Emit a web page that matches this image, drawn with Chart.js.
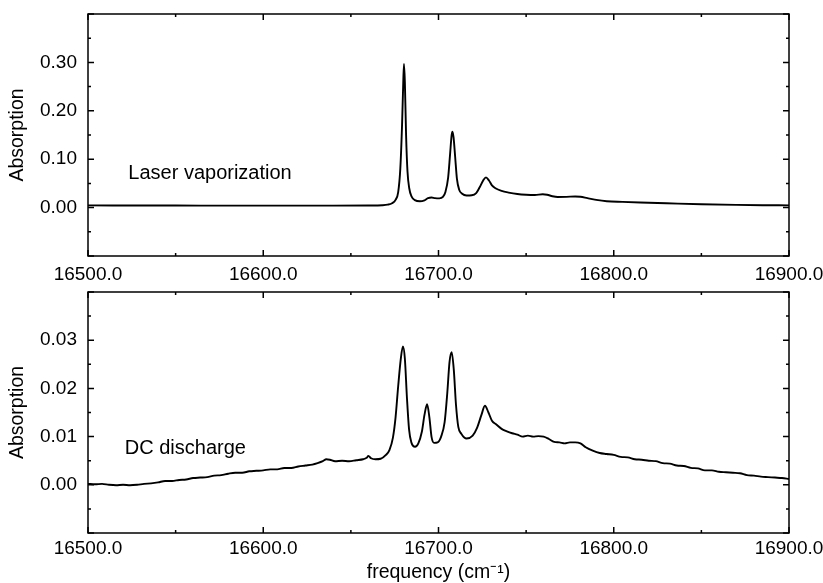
<!DOCTYPE html>
<html>
<head>
<meta charset="utf-8">
<script src="https://cdn.jsdelivr.net/npm/chart.js@4.4.1/dist/chart.umd.min.js"></script>
<style>
  body { margin: 0; background: #fff; }
  .panel { position: absolute; left: 0; width: 823px; }
  #topWrap { top: 0; height: 290px; }
  #botWrap { top: 280px; height: 303px; }
</style>
</head>
<body>
<div class="panel" id="topWrap"><canvas id="laserChart"></canvas></div>
<div class="panel" id="botWrap"><canvas id="dcChart"></canvas></div>
<script>
// laser vaporization spectrum (frequency in cm-1, absorption)
const laserFreq = [16500, 16550, 16600, 16640, 16660, 16668, 16671, 16673.5, 16675.5, 16677,
  16678.2, 16679.2, 16679.9, 16680.3, 16680.8, 16681.5, 16682.3, 16683.3, 16684.6, 16686.5,
  16689.4, 16692, 16694, 16696, 16698, 16700.5, 16702.5, 16704, 16705.5, 16706.6,
  16707.5, 16708, 16708.6, 16709.5, 16710.5, 16711.8, 16713.5, 16716, 16719, 16721.5,
  16723.5, 16725.5, 16727.1, 16728.8, 16730.5, 16732.5, 16736, 16740, 16745, 16750,
  16755, 16759.5, 16762, 16765, 16768, 16773, 16778, 16781, 16785, 16790,
  16796, 16805, 16815, 16830, 16850, 16870, 16885, 16900];
const laserAbs = [0.0045, 0.0042, 0.0040, 0.0040, 0.0042, 0.0048, 0.0060, 0.0090, 0.0160, 0.0320,
  0.0800, 0.1700, 0.2600, 0.2970, 0.2600, 0.1500, 0.0750, 0.0400, 0.0230, 0.0155,
  0.0130, 0.0150, 0.0195, 0.0210, 0.0195, 0.0190, 0.0220, 0.0330, 0.0620, 0.1100,
  0.1500, 0.1570, 0.1450, 0.1050, 0.0600, 0.0370, 0.0285, 0.0250, 0.0255, 0.0300,
  0.0420, 0.0560, 0.0625, 0.0560, 0.0460, 0.0400, 0.0345, 0.0310, 0.0280, 0.0265,
  0.0260, 0.0275, 0.0265, 0.0235, 0.0220, 0.0222, 0.0230, 0.0225, 0.0195, 0.0160,
  0.0132, 0.0118, 0.0105, 0.0090, 0.0070, 0.0057, 0.0050, 0.0047];

// DC discharge spectrum
const dcFreq = [16500, 16504, 16508, 16512, 16516, 16520, 16524, 16528, 16532, 16536,
  16540, 16544, 16548, 16552, 16556, 16560, 16564, 16568, 16572, 16576,
  16580, 16584, 16588, 16592, 16596, 16600, 16604, 16608, 16612, 16616,
  16620, 16624, 16628, 16631, 16634, 16636, 16638, 16641, 16645, 16649,
  16653, 16657, 16659, 16660, 16661.5, 16664, 16667, 16670, 16672, 16674,
  16675.5, 16677, 16678.5, 16679.7, 16680.8, 16682, 16683.2, 16684.5, 16686.6, 16688.5,
  16690.5, 16692, 16693.5, 16694.8, 16696, 16697.5, 16699.5, 16701.5, 16703.5, 16705,
  16706.3, 16707.5, 16708.7, 16710, 16711.3, 16713, 16716, 16719.5, 16722, 16724.5,
  16726.5, 16728.5, 16730.5, 16733, 16736, 16739, 16742, 16745, 16748, 16751,
  16754, 16757, 16760, 16763, 16766, 16769, 16772, 16775, 16778, 16781,
  16784, 16788, 16792, 16796, 16800, 16804, 16808, 16812, 16816, 16820,
  16824, 16828, 16832, 16836, 16840, 16844, 16848, 16852, 16856, 16860,
  16864, 16868, 16872, 16876, 16880, 16884, 16888, 16892, 16896, 16900];
const dcAbs = [0.0002, 0.0001, 0.0002, 0.0000, -0.0001, 0.0000, -0.0001, 0.0000, 0.0002, 0.0003,
  0.0005, 0.0008, 0.0008, 0.0010, 0.0011, 0.0014, 0.0015, 0.0016, 0.0019, 0.0020,
  0.0023, 0.0025, 0.0025, 0.0028, 0.0029, 0.0030, 0.0032, 0.0032, 0.0035, 0.0035,
  0.0038, 0.0040, 0.0042, 0.0045, 0.0049, 0.0053, 0.0052, 0.0049, 0.0050, 0.0049,
  0.0051, 0.0053, 0.0056, 0.0060, 0.0055, 0.0053, 0.0054, 0.0062, 0.0072, 0.0098,
  0.0140, 0.0205, 0.0262, 0.0287, 0.0262, 0.0180, 0.0115, 0.0088, 0.0079, 0.0086,
  0.0110, 0.0145, 0.0167, 0.0140, 0.0100, 0.0087, 0.0088, 0.0100, 0.0130, 0.0190,
  0.0255, 0.0275, 0.0240, 0.0165, 0.0120, 0.0106, 0.0096, 0.0102, 0.0118, 0.0145,
  0.0164, 0.0150, 0.0133, 0.0125, 0.0116, 0.0111, 0.0107, 0.0104, 0.0100, 0.0102,
  0.0100, 0.0101, 0.0100, 0.0095, 0.0089, 0.0088, 0.0086, 0.0088, 0.0088, 0.0086,
  0.0078, 0.0071, 0.0066, 0.0064, 0.0062, 0.0058, 0.0057, 0.0053, 0.0052, 0.0050,
  0.0049, 0.0045, 0.0044, 0.0040, 0.0039, 0.0035, 0.0034, 0.0030, 0.0030, 0.0027,
  0.0026, 0.0025, 0.0024, 0.0020, 0.0019, 0.0017, 0.0016, 0.0015, 0.0014, 0.0012];

const xRange = [16500, 16900];
const laserRange = [-0.1, 0.4];
const dcRange = [-0.01, 0.04];

Chart.defaults.font.family = "'Liberation Sans', Arial, sans-serif";
Chart.defaults.font.size = 19;
Chart.defaults.color = "#000";

// frame + inward ticks on all four sides, plus the panel label
const frameTicks = {
    id: "frameTicks",
    afterDatasetsDraw(chart, args, opts) {
        const { ctx, chartArea: a, scales } = chart;
        const x = scales.x, y = scales.y;
        ctx.save();
        ctx.strokeStyle = "#000";
        ctx.lineWidth = 1.5;
        ctx.strokeRect(a.left, a.top, a.right - a.left, a.bottom - a.top);
        ctx.beginPath();
        for (let i = 0; i <= 8; i++) {
            let v = xRange[0] + i * 50;
            let px = x.getPixelForValue(v);
            let len = i % 2 === 0 ? 6 : 3;
            ctx.moveTo(px, a.bottom); ctx.lineTo(px, a.bottom - len);
            ctx.moveTo(px, a.top); ctx.lineTo(px, a.top + len);
        }
        for (let i = 0; i <= 10; i++) {
            let v = opts.yMin + i * opts.yMinor;
            let py = y.getPixelForValue(v);
            let len = i % 2 === 0 ? 6 : 3;
            ctx.moveTo(a.left, py); ctx.lineTo(a.left + len, py);
            ctx.moveTo(a.right, py); ctx.lineTo(a.right - len, py);
        }
        ctx.stroke();
        ctx.fillStyle = "#000";
        ctx.font = "20px 'Liberation Sans', Arial, sans-serif";
        ctx.textBaseline = "middle";
        ctx.textAlign = "left";
        ctx.fillText(opts.label, x.getPixelForValue(opts.labelX), y.getPixelForValue(opts.labelY));
        ctx.restore();
    }
};

function makeChart(id, freq, abs, range, minor, label, labelX, labelY, cfg) {
    return new Chart(document.getElementById(id), {
        type: "line",
        data: {
            datasets: [{
                data: freq.map((f, i) => ({ x: f, y: abs[i] })),
                borderColor: "#000",
                borderWidth: 1.9,
                pointRadius: 0,
                cubicInterpolationMode: "monotone",
                fill: false
            }]
        },
        options: {
            responsive: true,
            maintainAspectRatio: false,
            animation: false,
            layout: { padding: { top: cfg.top, right: 34, left: 0, bottom: 0 } },
            plugins: {
                legend: { display: false },
                tooltip: { enabled: false },
                frameTicks: { yMin: range[0], yMinor: minor, label: label, labelX: labelX, labelY: labelY }
            },
            scales: {
                x: {
                    type: "linear",
                    min: xRange[0],
                    max: xRange[1],
                    grid: { display: false, drawTicks: false },
                    border: { display: false },
                    ticks: {
                        stepSize: 100,
                        maxRotation: 0,
                        autoSkip: false,
                        padding: cfg.xPad,
                        callback: v => v.toFixed(1)
                    },
                    title: {
                        display: cfg.xTitle,
                        text: "frequency (cm\u207B\u00B9)",
                        font: { size: 19.5, lineHeight: 1.1 },
                        padding: { top: 0, bottom: 0 }
                    },
                    afterFit: s => {
                        s.height = cfg.xHeight;
                        s.paddingLeft = 0; s.paddingRight = 0;
                    }
                },
                y: {
                    min: range[0],
                    max: range[1],
                    grid: { display: false, drawTicks: false },
                    border: { display: false },
                    ticks: {
                        stepSize: minor * 2,
                        padding: 11,
                        callback: v => (v < -1e-9 || v > range[1] - minor) ? "" : v.toFixed(2)
                    },
                    title: {
                        display: true,
                        text: "Absorption",
                        font: { size: 19.5, lineHeight: 1.2 },
                        padding: { top: 6, bottom: 0 }
                    },
                    afterFit: s => {
                        s.width = 88;
                        s.paddingTop = 0; s.paddingBottom = 0;
                    }
                }
            }
        },
        plugins: [frameTicks]
    });
}

makeChart("laserChart", laserFreq, laserAbs, laserRange, 0.05,
    "Laser vaporization", 16523, 0.07,
    { top: 14, xHeight: 34, xPad: 7, xTitle: false });

makeChart("dcChart", dcFreq, dcAbs, dcRange, 0.005,
    "DC discharge", 16521, 0.0076,
    { top: 12, xHeight: 50, xPad: 4, xTitle: true });
</script>
</body>
</html>
